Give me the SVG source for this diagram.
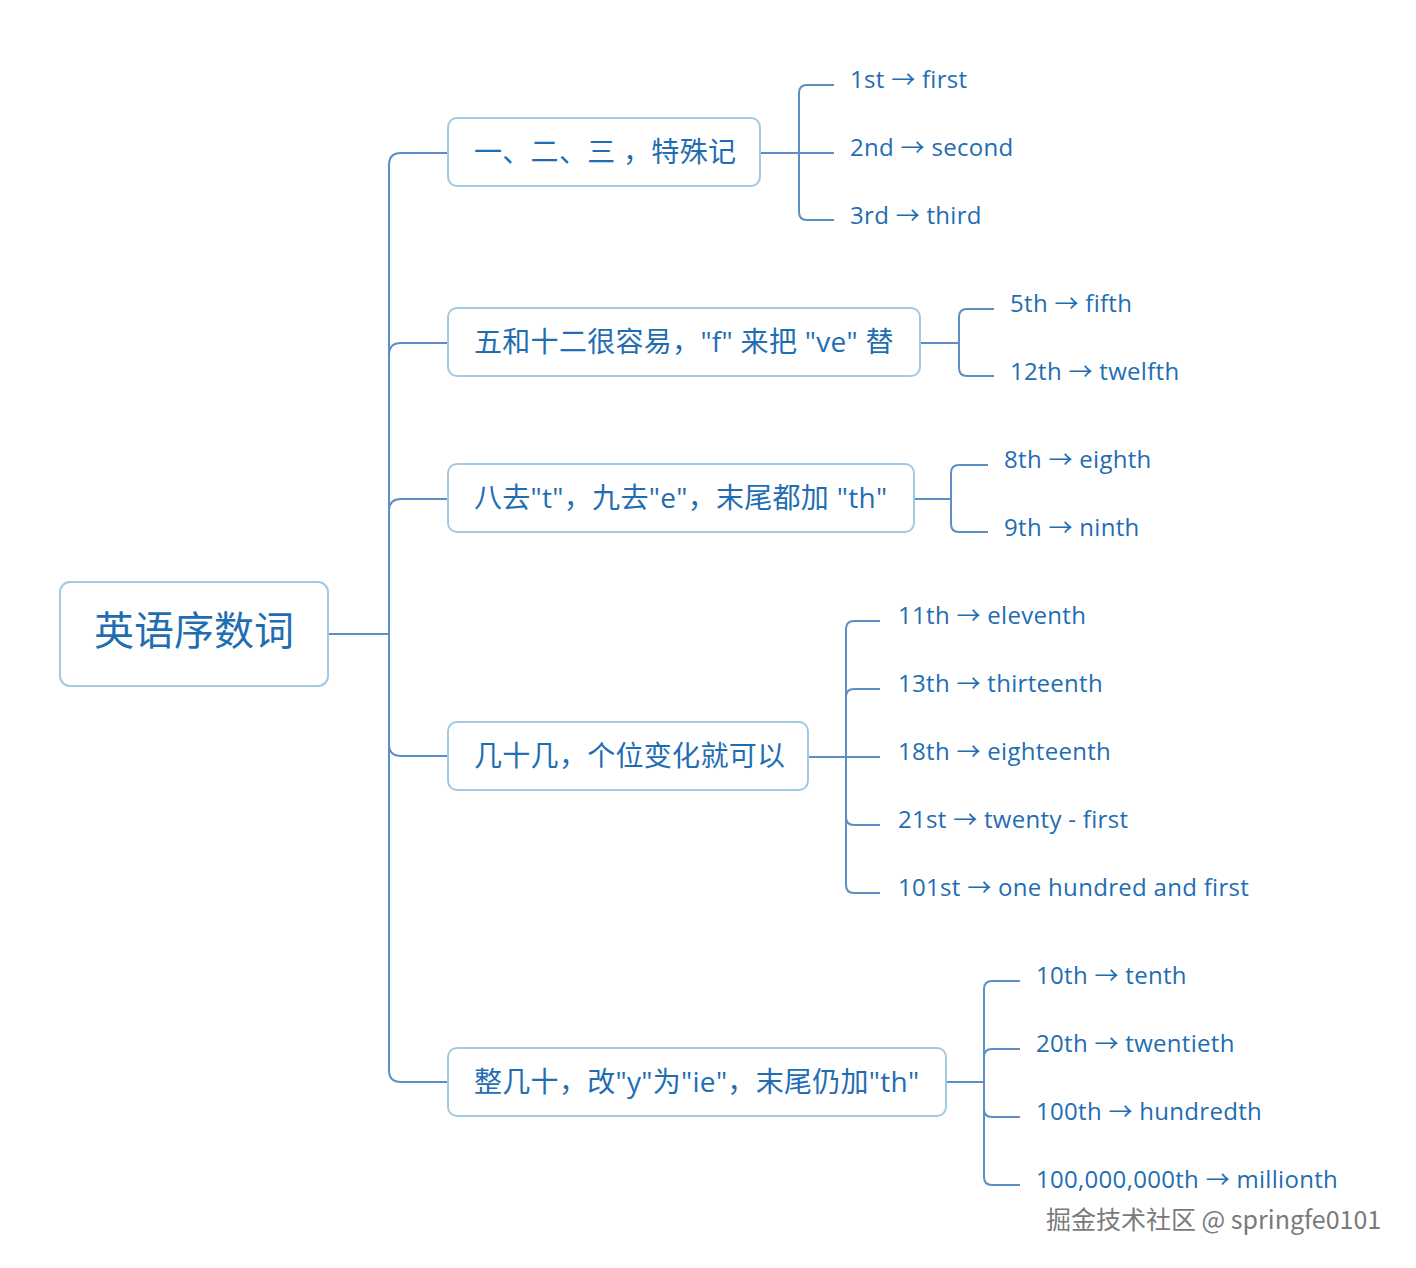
<svg xmlns="http://www.w3.org/2000/svg" width="1416" height="1268" viewBox="0 0 1416 1268">
<style>
.bg{fill:#ffffff}
.box{fill:#ffffff;stroke:#a3c9e2;stroke-width:2}
.con{fill:none;stroke:#5d8fc6;stroke-width:2}
.t{font-family:"Open Sans","Noto Sans CJK SC",sans-serif;fill:#1f6db2}
.root{font-size:40px}
.br{font-size:28px;letter-spacing:0.3px}
.lf{font-size:24px;letter-spacing:0.3px}
.wm{font-family:"Noto Sans CJK SC","Open Sans",sans-serif;font-size:25px;fill:#7a7a7a}
.wms{font-family:"Noto Sans CJK SC","Open Sans",sans-serif;font-size:25px;fill:#ffffff}
</style>
<rect class="bg" x="0" y="0" width="1416" height="1268"/>
<g id="connectors" class="con">
<path d="M328,634 H389"/>
<path d="M389,634 V165 Q389,153 401,153 H448"/>
<path d="M389,634 V355 Q389,343 401,343 H448"/>
<path d="M389,634 V511 Q389,499 401,499 H448"/>
<path d="M389,634 V744 Q389,756 401,756 H448"/>
<path d="M389,634 V1070 Q389,1082 401,1082 H448"/>
<path d="M760,153 H834"/>
<path d="M799,153 V93 Q799,85 807,85 H834"/>
<path d="M799,153 V212 Q799,220 807,220 H834"/>
<path d="M920,343 H959"/>
<path d="M959,343 V317 Q959,309 967,309 H994"/>
<path d="M959,343 V368 Q959,376 967,376 H994"/>
<path d="M914,499 H951"/>
<path d="M951,499 V473 Q951,465 959,465 H988"/>
<path d="M951,499 V524 Q951,532 959,532 H988"/>
<path d="M808,757 H880"/>
<path d="M846,757 V629 Q846,621 854,621 H880"/>
<path d="M846,757 V697 Q846,689 854,689 H880"/>
<path d="M846,757 V817 Q846,825 854,825 H880"/>
<path d="M846,757 V885 Q846,893 854,893 H880"/>
<path d="M946,1082 H984"/>
<path d="M984,1082 V989 Q984,981 992,981 H1020"/>
<path d="M984,1082 V1057 Q984,1049 992,1049 H1020"/>
<path d="M984,1082 V1109 Q984,1117 992,1117 H1020"/>
<path d="M984,1082 V1177 Q984,1185 992,1185 H1020"/>
</g>
<g id="root">
<rect class="box" x="60" y="582" width="268" height="104" rx="10"/>
<text class="t root" x="194" y="645" text-anchor="middle">英语序数词</text>
</g>
<g id="b1">
<rect class="box" x="448" y="118" width="312" height="68" rx="9"/>
<text class="t br" x="474" y="162">一、二、三 ，特殊记</text>
</g>
<g id="b2">
<rect class="box" x="448" y="308" width="472" height="68" rx="9"/>
<text class="t br" x="474" y="352">五和十二很容易，"f" 来把 "ve" 替</text>
</g>
<g id="b3">
<rect class="box" x="448" y="464" width="466" height="68" rx="9"/>
<text class="t br" x="474" y="508">八去"t"，九去"e"，末尾都加 "th"</text>
</g>
<g id="b4">
<rect class="box" x="448" y="722" width="360" height="68" rx="9"/>
<text class="t br" x="474" y="766">几十几，个位变化就可以</text>
</g>
<g id="b5">
<rect class="box" x="448" y="1048" width="498" height="68" rx="9"/>
<text class="t br" x="474" y="1092">整几十，改"y"为"ie"，末尾仍加"th"</text>
</g>
<g id="l1"><text class="t lf" x="850" y="88">1st → first</text></g>
<g id="l2"><text class="t lf" x="850" y="156">2nd → second</text></g>
<g id="l3"><text class="t lf" x="850" y="224">3rd → third</text></g>
<g id="l4"><text class="t lf" x="1010" y="312">5th → fifth</text></g>
<g id="l5"><text class="t lf" x="1010" y="380">12th → twelfth</text></g>
<g id="l6"><text class="t lf" x="1004" y="468">8th → eighth</text></g>
<g id="l7"><text class="t lf" x="1004" y="536">9th → ninth</text></g>
<g id="l8"><text class="t lf" x="898" y="624">11th → eleventh</text></g>
<g id="l9"><text class="t lf" x="898" y="692">13th → thirteenth</text></g>
<g id="l10"><text class="t lf" x="898" y="760">18th → eighteenth</text></g>
<g id="l11"><text class="t lf" x="898" y="828">21st → twenty - first</text></g>
<g id="l12"><text class="t lf" x="898" y="896">101st → one hundred and first</text></g>
<g id="l13"><text class="t lf" x="1036" y="984">10th → tenth</text></g>
<g id="l14"><text class="t lf" x="1036" y="1052">20th → twentieth</text></g>
<g id="l15"><text class="t lf" x="1036" y="1120">100th → hundredth</text></g>
<g id="l16"><text class="t lf" x="1036" y="1188">100,000,000th → millionth</text></g>
<g id="watermark">
<text class="wms" x="1047" y="1230">掘金技术社区 @ springfe0101</text>
<text class="wm" x="1046" y="1229">掘金技术社区 @ springfe0101</text>
</g>
</svg>
